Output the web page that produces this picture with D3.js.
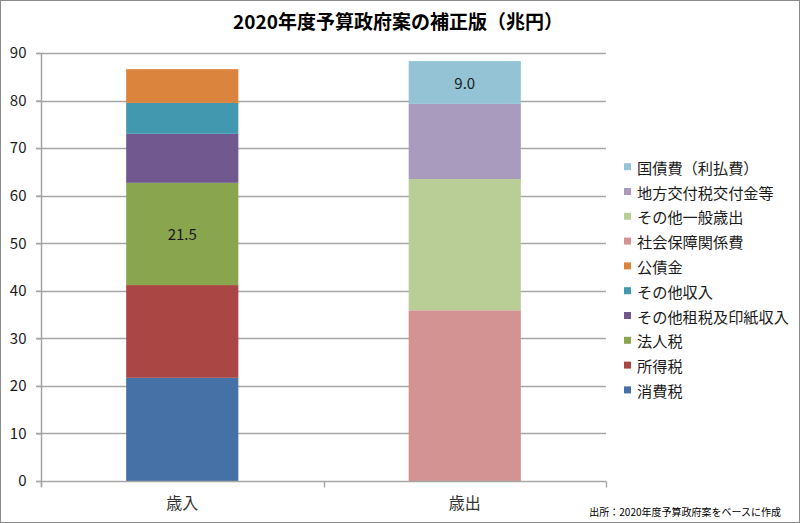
<!DOCTYPE html>
<html>
<head>
<meta charset="utf-8">
<script src="https://cdn.jsdelivr.net/npm/d3@7"></script>
<style>
  html, body { margin: 0; padding: 0; background: #fff; }
  svg { display: block; }
  text { font-family: "Noto Sans CJK JP", "Noto Sans", sans-serif; }
</style>
</head>
<body>
<svg id="chart" width="800" height="523"></svg>
<script>
// ---- data ----
const categories = ["歳入", "歳出"];
const seriesNames = [
  "消費税", "所得税", "法人税", "その他租税及印紙収入", "その他収入", "公債金",
  "社会保障関係費", "その他一般歳出", "地方交付税交付金等", "国債費(利払費)"
];
const legendLabels = [
  "消費税", "所得税", "法人税", "その他租税及印紙収入", "その他収入", "公債金",
  "社会保障関係費", "その他一般歳出", "地方交付税交付金等", "国債費（利払費）"
];
// values per series: [歳入, 歳出]
const revenueValues = [21.7, 19.5, 21.5, 10.3, 6.5, 7.1, 0, 0, 0, 0];
const expenditureValues = [0, 0, 0, 0, 0, 0, 35.9, 27.6, 15.8, 9.0];
const seriesColors = [
  "#4571a7", "#aa4644", "#89a54e", "#71588f", "#4198af", "#db843d",
  "#d29392", "#b9cd96", "#a99bbd", "#93c3d4"
];
const labeledSeries = ["法人税", "国債費(利払費)"];
const yTicks = [0, 10, 20, 30, 40, 50, 60, 70, 80, 90];
const titleText = "2020年度予算政府案の補正版（兆円）";
const sourceText = "出所：2020年度予算政府案をベースに作成";

// ---- layout ----
const svg = d3.select("#chart");
const W = 800, H = 523;
const plot = { left: 41, right: 606, top: 53, bottom: 481 };

svg.append("rect").attr("x", 0.5).attr("y", 0.5).attr("width", W - 1).attr("height", H - 1)
  .attr("fill", "#fff").attr("stroke", "#8c8c8c").attr("stroke-width", 1);

const y = d3.scaleLinear().domain([0, 90]).range([plot.bottom, plot.top]);
const x = d3.scaleBand().domain(categories).range([plot.left, plot.right]).padding(0);
const barW = x.bandwidth() * 0.397;

// table for stacking
const table = categories.map((c, i) => {
  const row = { category: c };
  seriesNames.forEach((s, j) => { row[s] = i === 0 ? revenueValues[j] : expenditureValues[j]; });
  return row;
});
const stacked = d3.stack().keys(seriesNames)(table);

// gridlines
svg.append("g").selectAll("line").data(yTicks.filter(d => d > 0)).join("line")
  .attr("x1", plot.left - 5).attr("x2", plot.right)
  .attr("y1", d => Math.round(y(d)) + 0.5).attr("y2", d => Math.round(y(d)) + 0.5)
  .attr("stroke", "#a6a6a6").attr("stroke-width", 1.4);

// y axis
const yAxis = d3.axisLeft(y).tickValues(yTicks).tickSize(5).tickPadding(10);
const gy = svg.append("g").attr("transform", `translate(${plot.left + 0.5},0)`).call(yAxis);
gy.select(".domain").attr("stroke", "#a0a0a0").attr("stroke-width", 1.4)
  .attr("d", `M0,${plot.top}V${plot.bottom + 6}`);
gy.selectAll(".tick line").attr("stroke", "#a6a6a6").attr("stroke-width", 1.4);
gy.selectAll(".tick text").attr("font-size", 15).attr("fill", "#1a1a1a")
  .attr("font-family", "'Open Sans', 'Noto Sans', sans-serif");

// bars
const cat = svg.append("g");
stacked.forEach((layer, j) => {
  cat.append("g").attr("fill", seriesColors[j]).selectAll("rect")
    .data(layer.filter(d => d[1] - d[0] > 0)).join("rect")
    .attr("x", d => x(d.data.category) + (x.bandwidth() - barW) / 2)
    .attr("width", barW)
    .attr("y", d => y(d[1]))
    .attr("height", d => y(d[0]) - y(d[1]));
});

// x axis
const xAxis = d3.axisBottom(x).tickSize(0).tickPadding(16);
const gx = svg.append("g").attr("transform", `translate(0,${plot.bottom + 0.5})`).call(xAxis);
gx.select(".domain").attr("stroke", "#a6a6a6").attr("stroke-width", 1.4)
  .attr("d", `M${plot.left - 5},0H${plot.right}`);
gx.selectAll(".tick text").attr("font-size", 16).attr("fill", "#333");
// category boundary ticks
const boundaries = [plot.left, (plot.left + plot.right) / 2, plot.right];
gx.append("g").selectAll("line").data(boundaries).join("line")
  .attr("x1", d => Math.round(d) + 0.5).attr("x2", d => Math.round(d) + 0.5)
  .attr("y1", 0).attr("y2", 6).attr("stroke", "#a6a6a6").attr("stroke-width", 1.4);

// data labels
stacked.forEach((layer, j) => {
  if (!labeledSeries.includes(seriesNames[j])) return;
  layer.filter(d => d[1] - d[0] > 0).forEach(d => {
    svg.append("text")
      .attr("x", x(d.data.category) + x.bandwidth() / 2)
      .attr("y", (y(d[0]) + y(d[1])) / 2)
      .attr("text-anchor", "middle").attr("dominant-baseline", "central")
      .attr("font-size", 15).attr("fill", "#1a1a1a")
      .attr("font-family", "'Open Sans', 'Noto Sans', sans-serif")
      .text((d[1] - d[0]).toFixed(1));
  });
});

// legend (reverse order)
const legendOrder = d3.range(seriesNames.length).reverse();
const lg = svg.append("g");
legendOrder.forEach((j, i) => {
  const cy = 166.7 + i * 24.8;
  lg.append("rect").attr("x", 624).attr("y", cy - 3.5).attr("width", 7).attr("height", 7)
    .attr("fill", seriesColors[j]);
  lg.append("text").attr("x", 637).attr("y", cy).attr("dominant-baseline", "central")
    .attr("font-size", 15.2).attr("fill", "#1a1a1a").text(legendLabels[j]);
});

// title
svg.append("text").attr("x", 398).attr("y", 29).attr("text-anchor", "middle")
  .attr("font-size", 19).attr("font-weight", "bold").attr("fill", "#000")
  .text(titleText);

// source
svg.append("text").attr("x", 781).attr("y", 516).attr("text-anchor", "end")
  .attr("font-size", 10).attr("fill", "#000").text(sourceText);
</script>
</body>
</html>
